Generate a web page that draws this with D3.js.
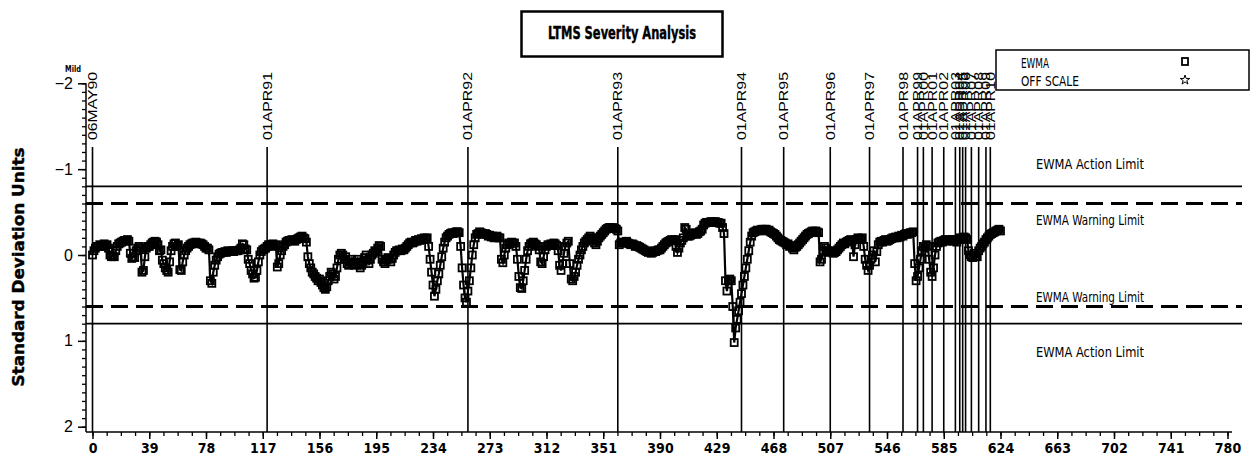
<!DOCTYPE html>
<html><head><meta charset="utf-8">
<script src="https://cdn.jsdelivr.net/npm/d3@7"></script>
<style>body{margin:0;background:#fff}svg{display:block}</style>
</head><body>
<svg id="c" width="1251" height="466"></svg>
<script>
const ewma = [
 0.0,-0.05,-0.08,-0.1,-0.1,-0.12,-0.1,-0.11,-0.13,-0.1,
 -0.12,-0.08,0.0,0.02,0.01,0.02,-0.05,-0.1,-0.13,-0.14,
 -0.15,-0.16,-0.17,-0.17,-0.18,-0.16,-0.02,0.04,0.02,0.03,
 -0.05,-0.08,-0.1,-0.08,0.2,0.18,0.02,-0.08,-0.1,-0.1,
 -0.12,-0.14,-0.15,-0.16,-0.15,-0.12,-0.05,-0.06,0.06,0.1,
 0.15,0.18,0.2,0.08,-0.05,-0.1,-0.13,-0.14,-0.1,-0.12,
 0.17,0.18,0.08,0.0,-0.05,-0.08,-0.1,-0.12,-0.13,-0.14,
 -0.14,-0.15,-0.14,-0.13,-0.14,-0.13,-0.12,-0.1,-0.08,-0.08,
 -0.06,0.3,0.33,0.2,0.12,0.06,0.02,-0.01,-0.02,-0.03,
 -0.03,-0.04,-0.03,-0.05,-0.04,-0.04,-0.05,-0.04,-0.05,-0.05,
 -0.05,-0.06,-0.08,-0.13,-0.12,-0.07,-0.06,0.05,0.1,0.18,
 0.22,0.27,0.26,0.18,0.08,0.0,-0.04,-0.06,-0.07,-0.08,
 -0.1,-0.12,-0.11,-0.12,-0.13,-0.1,-0.12,0.14,0.1,0.0,
 -0.05,-0.1,-0.12,-0.15,-0.16,-0.17,-0.17,-0.18,-0.17,-0.16,
 -0.18,-0.19,-0.2,-0.21,-0.22,-0.2,-0.19,-0.15,0.02,0.1,
 0.15,0.2,0.22,0.25,0.27,0.3,0.28,0.32,0.35,0.38,
 0.4,0.37,0.3,0.25,0.2,0.22,0.28,0.25,0.15,0.05,
 0.0,-0.02,0.0,0.05,0.02,0.1,0.12,0.08,0.05,0.1,
 0.12,0.08,0.05,0.1,0.15,0.12,0.08,0.03,0.0,0.06,
 0.1,0.05,0.0,-0.02,-0.05,-0.04,-0.08,-0.11,-0.1,0.05,
 0.08,0.1,0.06,0.03,0.05,0.08,0.04,0.0,-0.03,-0.05,
 -0.05,-0.06,-0.05,-0.07,-0.06,-0.08,-0.1,-0.12,-0.14,-0.15,
 -0.14,-0.15,-0.17,-0.16,-0.18,-0.17,-0.19,-0.18,-0.2,-0.19,
 -0.2,-0.1,0.05,0.2,0.35,0.48,0.4,0.3,0.22,0.12,
 0.02,-0.08,-0.15,-0.2,-0.22,-0.24,-0.25,-0.26,-0.25,-0.26,
 -0.27,-0.27,-0.26,-0.1,0.15,0.35,0.5,0.55,0.42,0.3,
 0.15,0.0,-0.12,-0.2,-0.24,-0.25,-0.27,-0.26,-0.25,-0.24,
 -0.25,-0.24,-0.22,-0.23,-0.21,-0.22,-0.2,-0.21,-0.22,-0.2,
 -0.2,0.05,0.09,0.0,-0.08,-0.12,-0.14,-0.13,-0.15,-0.14,
 -0.14,-0.1,0.05,0.25,0.38,0.39,0.3,0.18,0.05,-0.05,
 -0.1,-0.13,-0.14,-0.15,-0.13,-0.12,-0.1,-0.06,0.08,0.1,
 0.02,-0.06,-0.1,-0.12,-0.11,-0.13,-0.12,-0.14,-0.13,-0.11,
 -0.05,0.12,0.18,0.1,-0.02,-0.1,-0.14,-0.16,0.1,0.28,
 0.3,0.25,0.2,0.12,0.05,0.0,-0.06,-0.1,-0.14,-0.16,
 -0.18,-0.2,-0.22,-0.2,-0.18,-0.14,-0.12,-0.16,-0.2,-0.22,
 -0.24,-0.26,-0.28,-0.3,-0.31,-0.32,-0.32,-0.31,-0.32,-0.31,
 -0.3,-0.28,-0.12,-0.14,-0.15,-0.14,-0.15,-0.16,-0.14,-0.13,
 -0.12,-0.13,-0.12,-0.1,-0.11,-0.1,-0.09,-0.08,-0.07,-0.06,
 -0.05,-0.04,-0.03,-0.04,-0.02,-0.03,-0.05,-0.04,-0.05,-0.06,
 -0.06,-0.08,-0.1,-0.12,-0.14,-0.15,-0.16,-0.17,-0.18,-0.17,
 -0.18,-0.1,-0.03,-0.08,-0.14,-0.17,-0.2,-0.32,-0.3,-0.22,
 -0.22,-0.23,-0.24,-0.25,-0.26,-0.24,-0.25,-0.27,-0.28,-0.3,
 -0.35,-0.37,-0.38,-0.38,-0.38,-0.39,-0.38,-0.38,-0.39,-0.38,
 -0.38,-0.37,-0.37,-0.32,-0.25,0.3,0.42,0.3,0.28,0.3,
 0.6,1.02,0.85,0.75,0.65,0.55,0.45,0.35,0.25,0.15,
 0.05,-0.05,-0.15,-0.22,-0.26,-0.27,-0.28,-0.29,-0.28,-0.29,
 -0.3,-0.29,-0.3,-0.3,-0.28,-0.29,-0.27,-0.26,-0.25,-0.24,
 -0.22,-0.2,-0.18,-0.17,-0.16,-0.15,-0.14,-0.12,-0.13,-0.1,
 -0.11,-0.08,-0.06,-0.09,-0.1,-0.12,-0.14,-0.16,-0.18,-0.2,
 -0.22,-0.24,-0.25,-0.26,-0.27,-0.28,-0.27,-0.28,-0.27,-0.26,
 0.08,0.05,-0.05,-0.1,-0.08,-0.05,-0.04,-0.03,-0.05,-0.02,
 -0.03,-0.04,-0.06,-0.08,-0.1,-0.12,-0.14,-0.13,-0.15,-0.16,
 -0.17,-0.18,-0.16,0.02,-0.12,-0.18,-0.2,-0.19,-0.18,-0.2,
 -0.1,0.05,0.12,0.18,0.12,0.05,0.0,-0.05,0.08,-0.04,
 -0.12,-0.15,-0.16,-0.15,-0.17,-0.18,-0.16,-0.17,-0.18,-0.19,
 -0.2,-0.2,-0.21,-0.2,-0.22,-0.21,-0.23,-0.22,-0.24,-0.25,
 -0.24,-0.25,-0.26,-0.26,-0.27,0.1,0.3,0.25,0.15,0.05,
 -0.05,-0.1,-0.08,-0.12,-0.1,0.05,0.2,0.25,0.15,0.0,
 -0.1,-0.14,-0.15,-0.16,-0.15,-0.17,-0.18,-0.16,-0.17,-0.18,
 -0.17,-0.18,-0.16,-0.17,-0.15,-0.18,-0.2,-0.19,-0.2,-0.21,
 -0.2,-0.18,-0.05,0.0,0.02,0.03,-0.02,0.01,0.02,-0.05,
 -0.08,-0.1,-0.13,-0.15,-0.18,-0.2,-0.22,-0.24,-0.25,-0.26,
 -0.27,-0.28,-0.29,-0.3,-0.28
];
const refDates = ["06MAY90","01APR91","01APR92","01APR93","01APR94","01APR95","01APR96","01APR97",
  "01APR98","01APR99","01APR00","01APR01","01APR02","01APR03","01APR04","01APR05","01APR06",
  "01APR07","01APR08","01APR09","01APR10"];
const refPositions = [0,120,258,361,446,475,507,534,557,567,571,577,585,593,596,598,600,604,609,614,617];
const xTicks = d3.range(0, 781, 39);
const yTicks = [-2,-1,0,1,2];
const limitValues = [-0.8,-0.6,0.6,0.8];
const limitNames = ["EWMA Action Limit","EWMA Warning Limit","EWMA Warning Limit","EWMA Action Limit"];
const legendNames = ["EWMA","OFF SCALE"];

const narrow = "'Liberation Sans Narrow','DejaVu Sans Condensed','Liberation Sans',Arial,sans-serif";
const sans = "'Liberation Sans',Arial,sans-serif";
const svg = d3.select("#c");
const x = d3.scaleLinear().domain([0,780]).range([92.5,1227.5]);
const y = d3.scaleLinear().domain([-2,2]).range([83.3,426.7]);
const axisX = 86, axisY = 432, plotRight = 1242;

// title box
svg.append("rect").attr("x",521.5).attr("y",11.5).attr("width",201).attr("height",45)
  .attr("fill","none").attr("stroke","#000").attr("stroke-width",2.5);
svg.append("text").attr("x",622).attr("y",39).attr("text-anchor","middle")
  .attr("font-family",narrow).attr("font-weight","bold").attr("font-size",17)
  .attr("stroke","#000").attr("stroke-width",0.4)
  .attr("textLength",148).attr("lengthAdjust","spacingAndGlyphs").text("LTMS Severity Analysis");

// legend
svg.append("rect").attr("x",996).attr("y",50).attr("width",253).attr("height",40)
  .attr("fill","#fff").attr("stroke","#000").attr("stroke-width",1.5);
const legLen = [28,58];
legendNames.forEach((n,i)=>{
  svg.append("text").attr("x",1021).attr("y",68+i*18).attr("font-family",narrow)
    .attr("font-size",14).attr("textLength",legLen[i]).attr("lengthAdjust","spacingAndGlyphs").text(n);
});
svg.append("rect").attr("x",1182).attr("y",58).attr("width",6).attr("height",7)
  .attr("fill","none").attr("stroke","#000").attr("stroke-width",1.8);
svg.append("path").attr("d",d3.symbol(d3.symbolStar,28)()).attr("transform","translate(1185,80)")
  .attr("fill","none").attr("stroke","#000").attr("stroke-width",1);

// y axis
svg.append("line").attr("x1",axisX).attr("x2",axisX).attr("y1",y(-2)).attr("y2",axisY)
  .attr("stroke","#000").attr("stroke-width",1.5);
const yMinor = d3.range(-20,21).map(d=>d/10);
const gyMinor = svg.append("g").attr("transform",`translate(${axisX},0)`)
  .call(d3.axisLeft(y).tickValues(yMinor).tickSize(4).tickFormat(""));
gyMinor.select(".domain").remove();
gyMinor.selectAll("line").attr("stroke-width",1.3);
const gy = svg.append("g").attr("transform",`translate(${axisX},0)`)
  .call(d3.axisLeft(y).tickValues(yTicks).tickSize(8).tickPadding(5).tickFormat(d=>d<0?"\u2212"+Math.abs(d):d));
gy.select(".domain").remove();
gy.selectAll("line").attr("stroke-width",1.5);
gy.selectAll("text").attr("font-family",sans).attr("font-size",16).attr("fill","#000");

svg.append("text").attr("transform","translate(24,267) rotate(-90)").attr("text-anchor","middle")
  .attr("font-family",narrow).attr("font-weight","bold").attr("font-size",16)
  .attr("stroke","#000").attr("stroke-width",0.4)
  .attr("textLength",239).attr("lengthAdjust","spacingAndGlyphs").text("Standard Deviation Units");
svg.append("text").attr("x",65).attr("y",72).attr("font-family",narrow).attr("font-weight","bold")
  .attr("font-size",9).attr("textLength",16).attr("lengthAdjust","spacingAndGlyphs").text("Mild");

// x axis
svg.append("line").attr("x1",axisX).attr("x2",1232).attr("y1",axisY).attr("y2",axisY)
  .attr("stroke","#000").attr("stroke-width",1.5);
const xMinor = d3.range(0,781,9.75);
const gxMinor = svg.append("g").attr("transform",`translate(0,${axisY})`)
  .call(d3.axisBottom(x).tickValues(xMinor).tickSize(4).tickFormat(""));
gxMinor.select(".domain").remove();
gxMinor.selectAll("line").attr("stroke-width",1.3);
const gx = svg.append("g").attr("transform",`translate(0,${axisY})`)
  .call(d3.axisBottom(x).tickValues(xTicks).tickSize(7).tickPadding(4));
gx.select(".domain").remove();
gx.selectAll("line").attr("stroke-width",1.5);
gx.selectAll("text").attr("font-family",narrow).attr("font-weight","bold").attr("font-size",14).attr("fill","#000");

// limit lines
limitValues.forEach((v,i)=>{
  const dashed = Math.abs(v) < 0.7;
  svg.append("line").attr("x1",axisX).attr("x2",plotRight).attr("y1",y(v)).attr("y2",y(v))
    .attr("stroke","#000").attr("stroke-width",dashed?2.8:1.8)
    .attr("stroke-dasharray",dashed?"17,8":null);
});
const limitLabelOffset = [-21,18,-9,29];
limitNames.forEach((n,i)=>{
  svg.append("text").attr("x",1090).attr("y",y(limitValues[i])+limitLabelOffset[i]+4)
    .attr("text-anchor","middle").attr("font-family",narrow).attr("font-size",14)
    .attr("textLength",108).attr("lengthAdjust","spacingAndGlyphs").text(n);
});

// reference date lines
refPositions.forEach((p,i)=>{
  svg.append("line").attr("x1",x(p)).attr("x2",x(p)).attr("y1",147).attr("y2",axisY)
    .attr("stroke","#000").attr("stroke-width",1.6);
  svg.append("text").attr("transform",`translate(${x(p)+4.5},140) rotate(-90)`)
    .attr("font-family",sans).attr("font-size",12).attr("textLength",68)
    .attr("lengthAdjust","spacingAndGlyphs").text(refDates[i]);
});

// EWMA series
const line = d3.line().x((d,i)=>x(i)).y(d=>y(d));
svg.append("path").datum(ewma).attr("d",line).attr("fill","none").attr("stroke","#000").attr("stroke-width",2.2);
svg.append("g").selectAll("rect").data(ewma).join("rect")
  .attr("x",(d,i)=>x(i)-3.5).attr("y",d=>y(d)-3.5).attr("width",7).attr("height",7)
  .attr("fill","none").attr("stroke","#000").attr("stroke-width",1.8);
</script>
</body></html>
